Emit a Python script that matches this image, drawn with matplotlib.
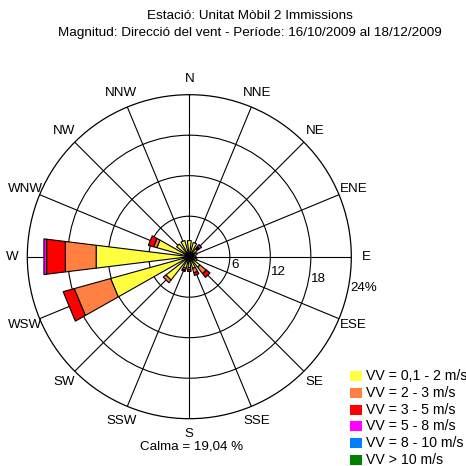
import numpy as np
import matplotlib
matplotlib.use('Agg')
import matplotlib.pyplot as plt
from matplotlib.patches import Rectangle

plt.rcParams['font.family'] = ['Liberation Sans', 'DejaVu Sans']

# rumbs i freqüències (%) per classe de velocitat
directions = ['N', 'NNE', 'NE', 'ENE', 'E', 'ESE', 'SE', 'SSE',
              'S', 'SSW', 'SW', 'WSW', 'W', 'WNW', 'NW', 'NNW']
vv_01_2 = [2.4, 2.2, 1.5, 1.2, 1.0, 1.2, 2.0, 1.8, 1.6, 1.8, 4.4, 12.1, 13.9, 5.0, 2.4, 2.5]
vv_2_3 = [0, 0, 0.2, 0, 0, 0, 1.2, 0.7, 0.3, 0.3, 0.5, 5.6, 4.6, 0.5, 0, 0]
vv_3_5 = [0, 0, 0.2, 0, 0, 0, 0.7, 0.4, 0.3, 0.2, 0, 1.7, 2.8, 0.8, 0, 0]
vv_5_8 = [0, 0, 0.4, 0, 0, 0, 0, 0, 0, 0, 0, 0, 0.4, 0, 0, 0]
vv_8_10 = [0] * 16
vv_10 = [0] * 16
calma = 19.04

classes = [vv_01_2, vv_2_3, vv_3_5, vv_5_8, vv_8_10, vv_10]
class_labels = ['VV = 0,1 - 2 m/s', 'VV = 2 - 3 m/s', 'VV = 3 - 5 m/s',
                'VV = 5 - 8 m/s', 'VV = 8 - 10 m/s', 'VV > 10 m/s']
colors = ['#ffff40', '#ff8040', '#ff0000', '#ff00ff', '#0080ff', '#008000']
rings = [6, 12, 18]
rmax = 24

fig = plt.figure(figsize=(4.66, 4.66), dpi=100)
ax = fig.add_axes([0.0586, 0.1015, 0.6953, 0.6953], projection='polar')
ax.set_theta_zero_location('N')
ax.set_theta_direction(-1)
ax.set_ylim(0, rmax)
ax.set_axisbelow(True)

angles = np.arange(16) * 22.5
ax.set_thetagrids(angles)
ax.set_rgrids(rings)
ax.tick_params(labelbottom=False, labelleft=False, length=0)
ax.grid(True, color='black', linewidth=0.8)
ax.spines['polar'].set_color('black')
ax.spines['polar'].set_linewidth(0.9)

# pètals apilats: trapezis de costats rectes
half = np.deg2rad(7)
for i, ang in enumerate(angles):
    th = np.deg2rad(ang)
    base = 0.0
    for vals, col in zip(classes, colors):
        v = vals[i]
        if v <= 0:
            continue
        top = base + v
        ax.fill([th - half, th - half, th + half, th + half],
                [base, top, top, base],
                facecolor=col, edgecolor='black', linewidth=0.8, zorder=3)
        base = top

# etiquetes dels rumbs
for name, ang in zip(directions, angles):
    ax.text(np.deg2rad(ang), 26.3, name, ha='center', va='center', fontsize=9.6)

# etiquetes dels cercles
lab_th = np.deg2rad(100)
for r, rr in zip(rings, [6.9, 13.4, 19.4]):
    ax.text(lab_th, rr, str(r), ha='center', va='center', fontsize=9.6)
ax.text(lab_th, 26.3, f'{rmax}%', ha='center', va='center', fontsize=9.6)

fig.text(0.536, 0.966, 'Estació: Unitat Mòbil 2 Immissions',
         ha='center', va='center', fontsize=9.7)
fig.text(0.536, 0.929, 'Magnitud: Direcció del vent - Període: 16/10/2009 al 18/12/2009',
         ha='center', va='center', fontsize=9.7)
fig.text(0.412, 0.041, f'Calma = {calma:.2f} %'.replace('.', ','),
         ha='center', va='center', fontsize=9.6)

# llegenda
for k, (lab, col) in enumerate(zip(class_labels, colors)):
    yc = 1 - (376 + k * 16.8) / 466
    fig.patches.append(Rectangle((350 / 466, yc - 5 / 466), 12 / 466, 10 / 466,
                                 transform=fig.transFigure, facecolor=col,
                                 edgecolor='none'))
    fig.text(366 / 466, yc, lab, ha='left', va='center', fontsize=10.2)

fig.savefig('out.png', dpi=100)
